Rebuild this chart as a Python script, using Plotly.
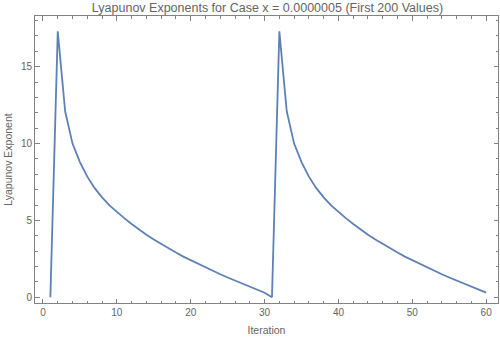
import plotly.graph_objects as go

# values
iterations = list(range(1, 61))
lyapunov = [
    0.0, 17.3, 12.1, 10.0, 8.8, 7.85, 7.1, 6.5, 5.98, 5.55,
    5.15, 4.77, 4.41, 4.07, 3.76, 3.46, 3.18, 2.91, 2.65, 2.41,
    2.17, 1.94, 1.72, 1.5, 1.29, 1.09, 0.89, 0.69, 0.49, 0.3,
    0.0, 17.3, 12.1, 10.0, 8.8, 7.85, 7.1, 6.5, 5.98, 5.55,
    5.15, 4.77, 4.41, 4.07, 3.76, 3.46, 3.18, 2.91, 2.65, 2.41,
    2.17, 1.94, 1.72, 1.5, 1.29, 1.09, 0.89, 0.69, 0.49, 0.3,
]
xticks = [0, 10, 20, 30, 40, 50, 60]
yticks = [0, 5, 10, 15]

line_col = "rgb(94,129,181)"
frame_col = "rgb(130,130,130)"
text_col = "rgb(100,100,100)"
font = "Liberation Sans"

fig = go.Figure()
fig.add_trace(go.Scatter(
    x=iterations, y=lyapunov, mode="lines",
    line=dict(color=line_col, width=1.8),
    showlegend=False,
))

axis_common = dict(
    showline=True, linecolor=frame_col, linewidth=1, mirror="ticks",
    ticks="inside", ticklen=4.5, tickcolor=frame_col, tickwidth=1,
    showgrid=False, zeroline=False, automargin=False,
    tickfont=dict(family=font, size=10, color=text_col),
    title_font=dict(family=font, size=10.5, color=text_col),
)

fig.update_layout(
    width=500, height=339,
    margin=dict(l=35, r=2, t=16, b=36),
    plot_bgcolor="white", paper_bgcolor="white",
    title=dict(
        text="Lyapunov Exponents for Case x = 0.0000005 (First 200 Values)",
        font=dict(family=font, size=12.5, color=text_col),
        x=0.535, xanchor="center", y=0.978, yanchor="middle",
    ),
    xaxis=dict(
        range=[-1.08, 61.6], tickvals=xticks, title=dict(text="Iteration", standoff=9),
        minor=dict(ticks="inside", dtick=2, ticklen=2.5, tickcolor=frame_col),
        **axis_common,
    ),
    yaxis=dict(
        range=[-0.37, 18.3], tickvals=yticks, title=dict(text="Lyapunov Exponent", standoff=6),
        minor=dict(ticks="inside", dtick=1, ticklen=2.5, tickcolor=frame_col),
        **axis_common,
    ),
)

fig.write_html("out.html", config={"displayModeBar": False},
               post_script="document.body.style.margin='0';")
